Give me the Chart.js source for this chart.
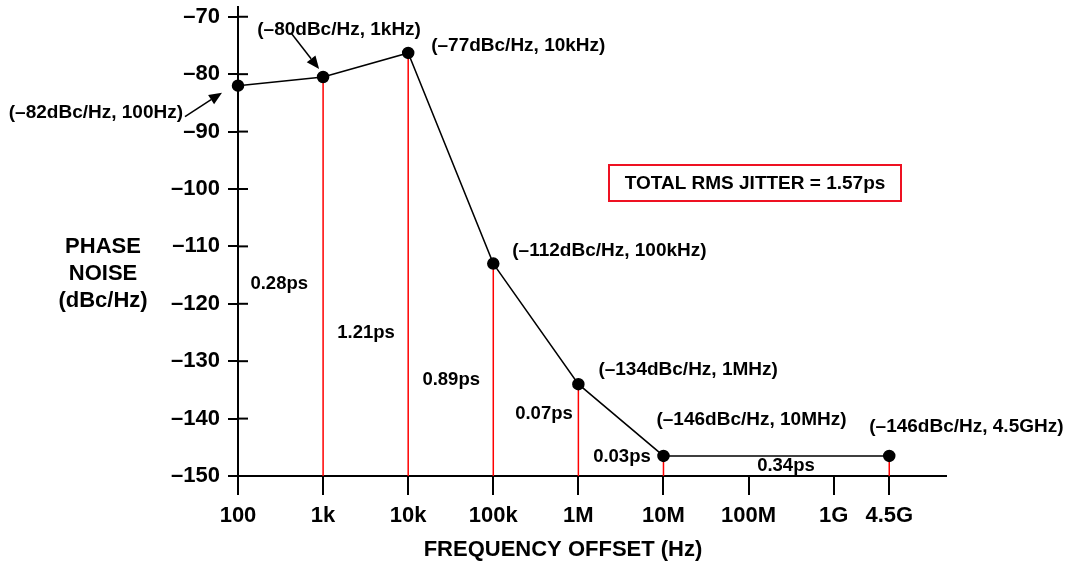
<!DOCTYPE html>
<html>
<head>
<meta charset="utf-8">
<script src="https://cdn.jsdelivr.net/npm/chart.js@4"></script>
<style>
  body { margin: 0; background: #fff; }
  #wrap { width: 1075px; height: 567px; }
</style>
</head>
<body>
<div id="wrap"><canvas id="pn" width="1075" height="567"></canvas></div>
<script>
'use strict';

// x axis: decades plus the 4.5GHz end point
const freqTicks = [1e2, 1e3, 1e4, 1e5, 1e6, 1e7, 1e8, 1e9, 4.5e9];
const freqLabels = ['100', '1k', '10k', '100k', '1M', '10M', '100M', '1G', '4.5G'];
const noiseTicks = [-70, -80, -90, -100, -110, -120, -130, -140, -150];

// measured phase noise points
const pointFreq = [1e2, 1e3, 1e4, 1e5, 1e6, 1e7, 4.5e9];
const pointNoise = [-82, -80.5, -76.3, -113, -134, -146.5, -146.5];
const pointLabels = [
  '(\u201382dBc/Hz, 100Hz)',
  '(\u201380dBc/Hz, 1kHz)',
  '(\u201377dBc/Hz, 10kHz)',
  '(\u2013112dBc/Hz, 100kHz)',
  '(\u2013134dBc/Hz, 1MHz)',
  '(\u2013146dBc/Hz, 10MHz)',
  '(\u2013146dBc/Hz, 4.5GHz)',
];

// jitter contribution of each segment
const jitterLabels = ['0.28ps', '1.21ps', '0.89ps', '0.07ps', '0.03ps', '0.34ps'];
const totalJitter = 'TOTAL RMS JITTER = 1.57ps';

const FONT = "'Liberation Sans', Arial, sans-serif";

// where the text goes, relative to each point (pixels)
const labelPlace = [
  { dx: -55, dy: 27, align: 'right' },
  { dx: 16, dy: -47, align: 'center' },
  { dx: 23, dy: -7, align: 'left' },
  { dx: 19, dy: -13, align: 'left' },
  { dx: 20, dy: -14, align: 'left' },
  { dx: -7, dy: -36, align: 'left' },
  { dx: -20, dy: -29, align: 'left' },
];
// jitter labels sit in data space (freq, dBc/Hz)
const jitterPlace = [
  [305, -116.6], [3200, -125.0], [32000, -133.2],
  [394000, -139.2], [3.25e6, -146.7], [2.75e8, -148.3],
];

const mainData = pointFreq.map(function (f, i) { return { x: f, y: pointNoise[i] }; });

const redSets = [];
for (let i = 1; i < pointFreq.length; i++) {
  redSets.push({
    data: [{ x: pointFreq[i], y: pointNoise[i] }, { x: pointFreq[i], y: -150 }],
    borderColor: '#ff0000',
    borderWidth: 1.5,
    pointRadius: 0,
    showLine: true,
    fill: false,
  });
}

function drawArrow(ctx, x1, y1, x2, y2) {
  const ang = Math.atan2(y2 - y1, x2 - x1);
  const len = 13, half = 5.5;
  const bx = x2 - len * Math.cos(ang), by = y2 - len * Math.sin(ang);
  ctx.beginPath();
  ctx.moveTo(x1, y1);
  ctx.lineTo(bx, by);
  ctx.lineWidth = 1.5;
  ctx.strokeStyle = '#000';
  ctx.stroke();
  ctx.beginPath();
  ctx.moveTo(x2, y2);
  ctx.lineTo(bx + half * Math.sin(ang), by - half * Math.cos(ang));
  ctx.lineTo(bx - half * Math.sin(ang), by + half * Math.cos(ang));
  ctx.closePath();
  ctx.fillStyle = '#000';
  ctx.fill();
}

const notesPlugin = {
  id: 'notes',
  afterDraw: function (chart) {
    const ctx = chart.ctx;
    const xs = chart.scales.x, ys = chart.scales.y;
    ctx.save();

    // y ticks cross the axis: add the inner half
    ctx.strokeStyle = '#000';
    ctx.lineWidth = 2;
    noiseTicks.forEach(function (v) {
      const py = ys.getPixelForValue(v);
      ctx.beginPath();
      ctx.moveTo(xs.left, py);
      ctx.lineTo(xs.left + 10, py);
      ctx.stroke();
    });

    ctx.fillStyle = '#000';
    ctx.textBaseline = 'middle';

    ctx.font = 'bold 19px ' + FONT;
    pointLabels.forEach(function (txt, i) {
      const px = xs.getPixelForValue(pointFreq[i]);
      const py = ys.getPixelForValue(pointNoise[i]);
      const p = labelPlace[i];
      ctx.textAlign = p.align;
      ctx.fillText(txt, px + p.dx, py + p.dy);
    });

    ctx.font = 'bold 18.5px ' + FONT;
    ctx.textAlign = 'center';
    jitterLabels.forEach(function (txt, i) {
      ctx.fillText(txt, xs.getPixelForValue(jitterPlace[i][0]), ys.getPixelForValue(jitterPlace[i][1]));
    });

    // arrows for the two crowded labels
    const p0x = xs.getPixelForValue(pointFreq[0]), p0y = ys.getPixelForValue(pointNoise[0]);
    drawArrow(ctx, p0x - 53, p0y + 31, p0x - 16, p0y + 7);
    const p1x = xs.getPixelForValue(pointFreq[1]), p1y = ys.getPixelForValue(pointNoise[1]);
    drawArrow(ctx, p1x - 32, p1y - 44, p1x - 4, p1y - 8);

    // total jitter box
    ctx.strokeStyle = '#ee1122';
    ctx.lineWidth = 2;
    ctx.strokeRect(609, 165, 292, 36);
    ctx.font = 'bold 19px ' + FONT;
    ctx.fillText(totalJitter, 755, 184);

    // axis titles
    ctx.font = 'bold 22px ' + FONT;
    ctx.fillText('PHASE', 103, 247);
    ctx.fillText('NOISE', 103, 274);
    ctx.fillText('(dBc/Hz)', 103, 301);
    ctx.fillText('FREQUENCY OFFSET (Hz)', 563, 550);

    ctx.restore();
  },
};

const chart = new Chart(document.getElementById('pn').getContext('2d'), {
  type: 'scatter',
  data: {
    datasets: [
      {
        data: mainData,
        showLine: true,
        borderColor: '#000',
        borderWidth: 1.5,
        pointRadius: 5.5,
        pointBackgroundColor: '#000',
        pointBorderColor: '#000',
        clip: false,
      },
    ].concat(redSets),
  },
  options: {
    responsive: false,
    animation: false,
    layout: { padding: { left: 0, top: 6, right: 129, bottom: 0 } },
    plugins: {
      legend: { display: false },
      tooltip: { enabled: false },
    },
    scales: {
      x: {
        type: 'logarithmic',
        min: 100,
        max: 2.09e10,
        afterFit: function (scale) { scale.height = 91; },
        afterBuildTicks: function (scale) {
          scale.ticks = freqTicks.map(function (v) { return { value: v }; });
        },
        border: { color: '#000', width: 2 },
        grid: {
          drawOnChartArea: false,
          drawTicks: true,
          tickLength: 19,
          color: '#000',
          lineWidth: 2,
        },
        ticks: {
          autoSkip: false,
          maxRotation: 0,
          padding: 8,
          color: '#000',
          font: { family: FONT, size: 22, weight: 'bold' },
          callback: function (value) {
            const idx = freqTicks.indexOf(value);
            return idx >= 0 ? freqLabels[idx] : '';
          },
        },
      },
      y: {
        min: -150,
        max: -68.3,
        afterFit: function (scale) {
          scale.width = 238;
          scale.paddingTop = 0;
          scale.paddingBottom = 0;
        },
        afterBuildTicks: function (scale) {
          scale.ticks = noiseTicks.map(function (v) { return { value: v }; });
        },
        border: { color: '#000', width: 2 },
        grid: {
          drawOnChartArea: false,
          drawTicks: true,
          tickLength: 10,
          color: '#000',
          lineWidth: 2,
        },
        ticks: {
          padding: 8,
          color: '#000',
          font: { family: FONT, size: 22, weight: 'bold', lineHeight: 0.2 },
          callback: function (value) {
            return String(value).replace('-', '\u2013');
          },
        },
      },
    },
  },
  plugins: [notesPlugin],
});
</script>
</body>
</html>
